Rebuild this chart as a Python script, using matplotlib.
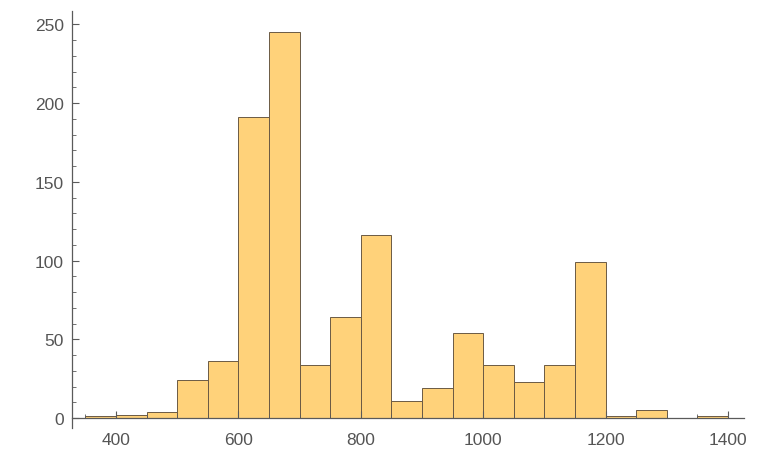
import numpy as np
import matplotlib
matplotlib.use("Agg")
import matplotlib.pyplot as plt
from matplotlib.ticker import MultipleLocator

# histogram data, bins of width 50
bin_left = [350, 400, 450, 500, 550, 600, 650, 700, 750, 800, 850, 900, 950,
            1000, 1050, 1100, 1150, 1200, 1250, 1300, 1350]
counts = [1, 2, 4, 24, 36, 191, 245, 34, 64, 116, 11, 19, 54,
          34, 23, 34, 99, 1, 5, 0, 1]
bin_width = 50

axis_col = "#5a5a5a"
plt.rcParams["font.family"] = ["Liberation Sans", "DejaVu Sans"]

fig = plt.figure(figsize=(7.64, 4.56), dpi=100)
ax = fig.add_axes([72 / 764, 1 - 428.5 / 456, (744 - 72) / 764, (428.5 - 12) / 456])

ax.bar(bin_left, counts, width=bin_width, align="edge",
       color="#FFD27A", edgecolor="#6b5a44", linewidth=0.7)

ax.set_xlim(328, 1426)
ax.set_ylim(-6, 258.5)

ax.spines["top"].set_visible(False)
ax.spines["right"].set_visible(False)
ax.spines["bottom"].set_position(("data", 0))
for s in ("left", "bottom"):
    ax.spines[s].set_color(axis_col)
    ax.spines[s].set_linewidth(0.9)

ax.xaxis.set_major_locator(MultipleLocator(200))
ax.xaxis.set_minor_locator(MultipleLocator(50))
ax.yaxis.set_major_locator(MultipleLocator(50))
ax.yaxis.set_minor_locator(MultipleLocator(10))

ax.tick_params(axis="both", which="major", direction="in", length=5,
               width=0.8, color=axis_col, labelcolor="#555555", labelsize=12.5)
ax.tick_params(axis="both", which="minor", direction="in", length=3,
               width=0.6, color=axis_col)
ax.tick_params(axis="x", which="major", pad=10)
ax.tick_params(axis="y", which="major", pad=6)
ax.set_xticks([400, 600, 800, 1000, 1200, 1400])

fig.savefig("out.png", dpi=100)
